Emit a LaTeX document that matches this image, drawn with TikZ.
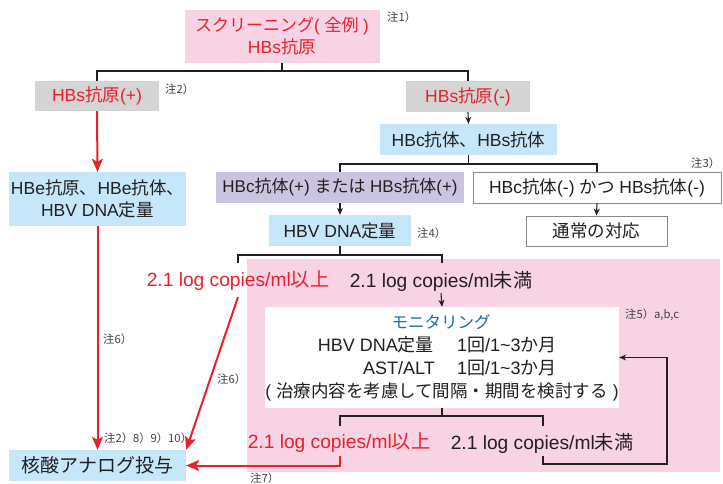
\documentclass[tikz,border=0pt]{standalone}
\usepackage{fontspec}
\setmainfont{Liberation Sans}
\newfontfamily\jp{Noto Sans CJK JP}
\newcommand\J[1]{{\jp #1}}
\newcommand\tld{{\char"7E}}
\usetikzlibrary{arrows.meta}
\definecolor{myred}{HTML}{E8212B}
\definecolor{pinkf}{HTML}{F8D3E4}
\definecolor{bluef}{HTML}{C6E7F9}
\definecolor{grayf}{HTML}{D4D4D4}
\definecolor{purplef}{HTML}{CAC4E1}
\definecolor{dark}{HTML}{231F20}
\definecolor{bluet}{HTML}{1C6AB5}
\definecolor{bord}{HTML}{8A8A8A}
\tikzset{
  box/.style={inner sep=0pt, align=center, text=dark, font=\fontsize{17.5}{22}\selectfont},
  wbox/.style={box, fill=white, draw=bord, line width=1pt},
  txt/.style={inner sep=2pt, text=dark, font=\fontsize{17.5}{22}\selectfont},
  thr/.style={txt, font=\fontsize{19.2}{22}\selectfont},
  mtxt/.style={txt, font=\fontsize{18}{22}\selectfont},
  note/.style={inner sep=0pt, anchor=west, text=dark!85, font=\jp\fontsize{11.3}{13}\selectfont},
  conn/.style={draw=dark, line width=1.1pt},
  arr/.style={conn, -{Stealth[length=7pt,width=6pt]}},
  rarr/.style={draw=myred, line width=2pt, -{Stealth[length=13pt,width=11pt,inset=3pt]}},
}
\begin{document}
\begin{tikzpicture}[x=1pt,y=-1pt]
\useasboundingbox (0,0) rectangle (723,483);
% pink background region
\fill[pinkf] (247,259) rectangle (720,472);

% boxes
\node[box, fill=pinkf, text=myred, minimum width=195, minimum height=53] (top) at (282,36.5)
  {{\fontsize{17}{22}\selectfont\J{スクリーニング}( \J{全例} )}\\HBs\J{抗原}};
\node[box, fill=grayf, text=myred, minimum width=124, minimum height=30] (hbsp) at (97,96) {HBs\J{抗原}(+)};
\node[box, fill=grayf, text=myred, minimum width=124, minimum height=31] (hbsn) at (468,96.5) {HBs\J{抗原}(-)};
\node[box, fill=bluef, minimum width=177, minimum height=31] (hbc) at (468.5,139.5) {HBc\J{抗体、}HBs\J{抗体}};
\node[box, fill=purplef, minimum width=248, minimum height=31, font=\fontsize{17}{22}\selectfont] (purp) at (340,187.5) {HBc\J{抗体}(+) \J{または} HBs\J{抗体}(+)};
\node[wbox, minimum width=248, minimum height=31] (neg) at (597,187.5) {HBc\J{抗体}(-) \J{かつ} HBs\J{抗体}(-)};
\node[wbox, minimum width=141, minimum height=30] (tsujo) at (596.5,231) {\J{通常の対応}};
\node[box, fill=bluef, minimum width=142, minimum height=31] (dna) at (340,230.5) {HBV DNA\J{定量}};
\node[box, fill=bluef, minimum width=177, minimum height=54] (hbe) at (97.5,199) {HBe\J{抗原、}HBe\J{抗体、}\\HBV DNA\J{定量}};
\node[box, fill=bluef, minimum width=177, minimum height=31, font=\fontsize{19}{22}\selectfont] (kaku) at (97.5,465.5) {\J{核酸アナログ投与}};

% monitoring box
\node[box, fill=white, minimum width=354, minimum height=101] (mon) at (442,357.5) {};
\node[txt, text=bluet, font=\fontsize{16.5}{20}\selectfont] (monT) at (441,322) {\J{モニタリング}};
\node[mtxt, anchor=east] (m1a) at (436,345) {HBV DNA\J{定量}};
\node[mtxt, anchor=west] (m1b) at (455,345) {1\J{回}/1\tld3\J{か月}};
\node[mtxt, anchor=east] (m2a) at (437,368) {AST/ALT};
\node[mtxt, anchor=west] (m2b) at (455,368) {1\J{回}/1\tld3\J{か月}};
\node[txt] (m3) at (442,392) {( \J{治療内容を考慮して間隔・期間を検討する} )};

% threshold labels
\node[thr, text=myred] (up1) at (238,281) {2.1 log copies/ml\J{以上}};
\node[thr] (un1) at (441,281) {2.1 log copies/ml\J{未満}};
\node[thr, text=myred] (up2) at (339,443) {2.1 log copies/ml\J{以上}};
\node[thr] (un2) at (542,443) {2.1 log copies/ml\J{未満}};

% notes
\node[note] (n1) at (387,17) {注1）};
\node[note] (n2) at (165,89) {注2）};
\node[note] (n3) at (691,163) {注3）};
\node[note] (n4) at (417,233) {注4）};
\node[note] (n5) at (625,315) {注5）a,b,c};
\node[note] (n6a) at (103,339) {注6）};
\node[note] (n6b) at (217,379) {注6）};
\node[note] (n2b) at (104,438) {注2）8）9）10）};
\node[note] (n7) at (250,478) {注7）};

% coordinates
\coordinate (j1) at (282,71);
\coordinate (j2) at (468.5,164);
\coordinate (j3) at (340,255);
\coordinate (a1) at (238,263);
\coordinate (a2) at (442,263);
\coordinate (j4) at (442,416);
\coordinate (b1) at (340,426);
\coordinate (b2) at (543,426);
\coordinate (c1) at (340,456);
\coordinate (c2) at (543,456);
\coordinate (r1) at (667,464);
\coordinate (d1) at (238,297);

% connectors
\draw[conn] (top.south) -- (j1);
\draw[conn] (hbsp.north) |- (j1) -| (hbsn.north);
\draw[arr] (hbsn.south) -- (hbc.north);
\draw[conn] (hbc.south) -- (j2);
\draw[conn] (purp.north) |- (j2) -| (neg.north);
\draw[arr] (purp.south) -- (dna.north);
\draw[arr] (neg.south) -- (tsujo.north);
\draw[conn] (dna.south) -- (j3);
\draw[conn] (a1) |- (j3) -| (a2);
\draw[arr] (un1.south) -- (mon.north);
\draw[conn] (mon.south) -- (j4);
\draw[conn] (b1) |- (j4) -| (b2);
\draw[arr] (c2) |- (r1) |- (mon.east);

% red arrows
\draw[rarr] (hbsp.south) -- (hbe.north);
\draw[rarr] (hbe.south) -- (kaku.north);
\draw[rarr] (d1) -- (kaku.north east);
\draw[rarr] (c1) |- (kaku.east);
\end{tikzpicture}
\end{document}
